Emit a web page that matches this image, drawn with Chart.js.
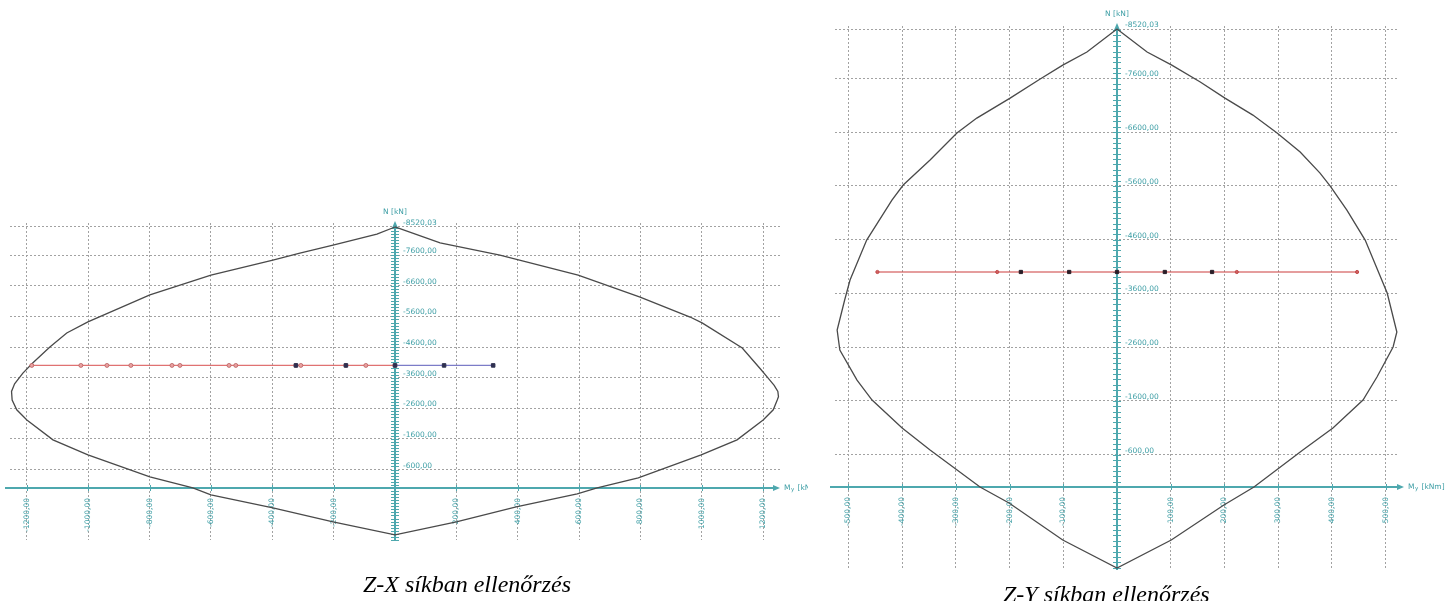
<!DOCTYPE html>
<html>
<head>
<meta charset="utf-8">
<script src="https://cdn.jsdelivr.net/npm/chart.js@4.4.1/dist/chart.umd.min.js"></script>
<style>
html,body{margin:0;padding:0;background:#fff;width:1456px;height:601px;overflow:hidden;position:relative}
canvas{position:absolute;top:0}
#c1{left:0}
#c2{left:820px}
.cap{position:absolute;font-family:"Liberation Serif","Times New Roman",serif;font-style:italic;font-size:24px;color:#000;white-space:nowrap;line-height:1}
#t1{left:363px;top:572px}
#t2{left:1003px;top:582px}
</style>
</head>
<body>
<canvas id="c1" width="808" height="601"></canvas>
<canvas id="c2" width="636" height="601"></canvas>
<div class="cap" id="t1">Z-X síkban ellenőrzés</div>
<div class="cap" id="t2">Z-Y síkban ellenőrzés</div>
<script>
// ---------- Z-X plane (left chart) ----------
const zxYTicks = [-8520.03, -7600, -6600, -5600, -4600, -3600, -2600, -1600, -600];
const zxXTicks = [-1200, -1000, -800, -600, -400, -200, 200, 400, 600, 800, 1000, 1200];
const zxCurveM = [0, -59, -202, -310, -398, -600, -799, -1001, -1070, -1125, -1181, -1213, -1240, -1250, -1248, -1233, -1200, -1115, -1001, -799, -659, -600, -398, -202, 0,
                  200, 395, 594, 659, 793, 998, 1115, 1200, 1233, 1246, 1250, 1248, 1236, 1215, 1190, 1132, 1001, 962, 799, 597, 342, 147, 0];
const zxCurveN = [-8520, -8290, -7930, -7670, -7440, -6950, -6300, -5420, -5060, -4600, -4080, -3750, -3400, -3150, -2870, -2550, -2220, -1570, -1080, -360, 0, 230, 650, 1110, 1534,
                  1110, 620, 196, 0, -330, -1080, -1570, -2220, -2550, -2870, -2980, -3150, -3350, -3600, -3900, -4570, -5390, -5580, -6230, -6950, -7600, -8000, -8520];
const zxRedM = [-1184, -1024, -939, -861, -727, -701, -541, -519, -323, -307, -160, -95, 0];
const zxRedN = [-4000, -4000, -4000, -4000, -4000, -4000, -4000, -4000, -4000, -4000, -4000, -4000, -4000];
const zxBlueM = [0, 160, 320];
const zxBlueN = [-4000, -4000, -4000];
const zxDarkM = [-323, -160, 0, 160, 320];
const zxDarkN = [-4000, -4000, -4000, -4000, -4000];

// ---------- Z-Y plane (right chart) ----------
const zyYTicks = [-8520.03, -7600, -6600, -5600, -4600, -3600, -2600, -1600, -600];
const zyXTicks = [-500, -400, -300, -200, -100, 100, 200, 300, 400, 500];
const zyCurveM = [0, -56, -101, -143, -199, -261, -298, -348, -398, -419, -466, -497, -507, -521, -516, -484, -456, -400, -348, -255, -201, -101, 0,
                  101, 199, 255, 346, 402, 458, 484, 514, 521, 503, 462, 428, 397, 378, 341, 298, 253, 201, 155, 102, 56, 0];
const zyCurveN = [-8520, -8091, -7849, -7589, -7235, -6863, -6584, -6082, -5617, -5338, -4594, -3850, -3478, -2920, -2548, -1990, -1618, -1097, -688, 0, 298, 986, 1507,
                  986, 335, 0, -688, -1097, -1618, -2046, -2604, -2883, -3608, -4594, -5152, -5599, -5840, -6231, -6584, -6919, -7235, -7533, -7849, -8091, -8520];
const zyRedM = [-446, -223, -179, -89, 0, 89, 177, 223, 447];
const zyRedN = [-4000, -4000, -4000, -4000, -4000, -4000, -4000, -4000, -4000];
const zySmallM = [-446, -223, 223, 447];
const zySmallN = [-4000, -4000, -4000, -4000];
const zyDarkM = [-179, -89, 0, 89, 177];
const zyDarkN = [-4000, -4000, -4000, -4000, -4000];

const TEAL = '#4ea8ae';
const TEAL_TXT = '#3d9ea5';
const FONT = '"DejaVu Sans", Verdana, sans-serif';
const fmt = v => v.toFixed(2).replace('.', ',');
const pts = (mx, ny) => mx.map((m, i) => ({x: m, y: ny[i]}));

const axisPlugin = {
  id: 'axisDeco',
  beforeDatasetsDraw(chart, args, o) {
    const ctx = chart.ctx, xs = chart.scales.x, ys = chart.scales.y, a = chart.chartArea;
    const x0 = Math.round(xs.getPixelForValue(0));
    const y0 = Math.round(ys.getPixelForValue(0));
    ctx.save();
    ctx.strokeStyle = TEAL; ctx.fillStyle = TEAL;
    // minor ticks on N axis
    ctx.lineWidth = 1;
    ctx.beginPath();
    for (let v = o.minorStart; v <= ys.max; v += o.minorStep) {
      const p = Math.round(ys.getPixelForValue(v)) + 0.5;
      ctx.moveTo(x0 - 4, p); ctx.lineTo(x0 + 4, p);
    }
    ctx.stroke();
    // ticks on M axis
    ctx.beginPath();
    o.xTicks.forEach(v => {
      const p = Math.round(xs.getPixelForValue(v)) + 0.5;
      ctx.moveTo(p, y0 - 3); ctx.lineTo(p, y0 + 3);
    });
    ctx.stroke();
    // horizontal axis with arrow
    ctx.lineWidth = 2;
    const xEnd = a.right + o.arrowX;
    ctx.beginPath(); ctx.moveTo(a.left - o.extLeft, y0); ctx.lineTo(xEnd - 5, y0); ctx.stroke();
    ctx.beginPath(); ctx.moveTo(xEnd, y0); ctx.lineTo(xEnd - 7, y0 - 3); ctx.lineTo(xEnd - 7, y0 + 3); ctx.closePath(); ctx.fill();
    // vertical axis with arrow
    const yTop = ys.getPixelForValue(o.yTicks[0]) - 6;
    ctx.beginPath(); ctx.moveTo(x0, a.bottom); ctx.lineTo(x0, yTop + 5); ctx.stroke();
    ctx.beginPath(); ctx.moveTo(x0, yTop); ctx.lineTo(x0 - 3, yTop + 7); ctx.lineTo(x0 + 3, yTop + 7); ctx.closePath(); ctx.fill();
    // tick labels
    ctx.fillStyle = TEAL_TXT;
    ctx.font = '7.5px ' + FONT;
    ctx.textAlign = 'left'; ctx.textBaseline = 'alphabetic';
    o.yTicks.forEach(v => ctx.fillText(fmt(v), x0 + 8, ys.getPixelForValue(v) - 2));
    o.xTicks.forEach(v => {
      const p = xs.getPixelForValue(v);
      ctx.save();
      ctx.translate(p, y0 + 10);
      ctx.rotate(-Math.PI / 2);
      ctx.textAlign = 'right'; ctx.textBaseline = 'middle';
      ctx.fillText(fmt(v), 0, 0);
      ctx.restore();
    });
    // axis titles
    ctx.textAlign = 'center'; ctx.textBaseline = 'middle';
    ctx.fillText('N [kN]', x0, yTop - 9);
    ctx.textAlign = 'left';
    const lx = xEnd + 4;
    ctx.fillText('M', lx, y0);
    const mw = ctx.measureText('M').width;
    ctx.font = '5.5px ' + FONT;
    ctx.fillText('y', lx + mw + 0.5, y0 + 2);
    ctx.font = '7.5px ' + FONT;
    ctx.fillText('[kNm]', lx + mw + 7, y0);
    ctx.restore();
  }
};

function makeChart(id, cfg) {
  const grid = {color: '#a2a2a2', lineWidth: 1, drawTicks: false};
  return new Chart(document.getElementById(id), {
    type: 'scatter',
    data: {datasets: cfg.datasets},
    options: {
      responsive: false, animation: false, devicePixelRatio: 1,
      layout: {padding: cfg.padding},
      plugins: {legend: {display: false}, tooltip: {enabled: false},
        axisDeco: {xTicks: cfg.xTicks, yTicks: cfg.yTicks, minorStart: -8500, minorStep: 100, arrowX: cfg.arrowX, extLeft: cfg.extLeft}},
      scales: {
        x: {type: 'linear', min: cfg.xMin, max: cfg.xMax, bounds: 'data',
            grid: grid, border: {display: false, dash: [2, 2]}, ticks: {display: false},
            afterBuildTicks: s => { s.ticks = cfg.xTicks.map(v => ({value: v})); }},
        y: {type: 'linear', reverse: true, min: cfg.yMin, max: cfg.yMax, bounds: 'data',
            grid: grid, border: {display: false, dash: [2, 2]}, ticks: {display: false},
            afterBuildTicks: s => { s.ticks = cfg.yTicks.map(v => ({value: v})); }}
      }
    },
    plugins: [axisPlugin]
  });
}

const curveStyle = {showLine: true, borderColor: '#4a4a4a', borderWidth: 1.3, pointRadius: 0, tension: 0, order: 3};

makeChart('c1', {
  padding: {left: 10, right: 28, top: 223, bottom: 61},
  xMin: -1255, xMax: 1255, yMin: -8650, yMax: 1700,
  xTicks: zxXTicks, yTicks: zxYTicks, arrowX: 0, extLeft: 5,
  datasets: [
    Object.assign({data: pts(zxCurveM, zxCurveN)}, curveStyle),
    {data: pts(zxRedM, zxRedN), showLine: true, borderColor: '#e07272', borderWidth: 1.3,
     pointRadius: 2, pointBackgroundColor: '#e9a0a0', pointBorderColor: '#b86060', pointBorderWidth: 0.8, order: 2},
    {data: pts(zxBlueM, zxBlueN), showLine: true, borderColor: '#7c7cc8', borderWidth: 1.3, pointRadius: 0, order: 2},
    {data: pts(zxDarkM, zxDarkN), showLine: false, pointStyle: 'rect', pointRadius: 2.5,
     pointBackgroundColor: '#2e3050', pointBorderColor: '#2e3050', order: 1}
  ]
});

makeChart('c2', {
  padding: {left: 15, right: 57, top: 26, bottom: 31},
  xMin: -525, xMax: 525, yMin: -8576, yMax: 1544,
  xTicks: zyXTicks, yTicks: zyYTicks, arrowX: 5, extLeft: 5,
  datasets: [
    Object.assign({data: pts(zyCurveM, zyCurveN)}, curveStyle),
    {data: pts(zyRedM, zyRedN), showLine: true, borderColor: '#cc3c3c', borderWidth: 1.2, pointRadius: 0, order: 2},
    {data: pts(zySmallM, zySmallN), showLine: false, pointRadius: 1.6,
     pointBackgroundColor: '#d06060', pointBorderColor: '#c04848', order: 1},
    {data: pts(zyDarkM, zyDarkN), showLine: false, pointStyle: 'rect', pointRadius: 2.3,
     pointBackgroundColor: '#2a1e28', pointBorderColor: '#2a1e28', order: 1}
  ]
});
</script>
</body>
</html>
